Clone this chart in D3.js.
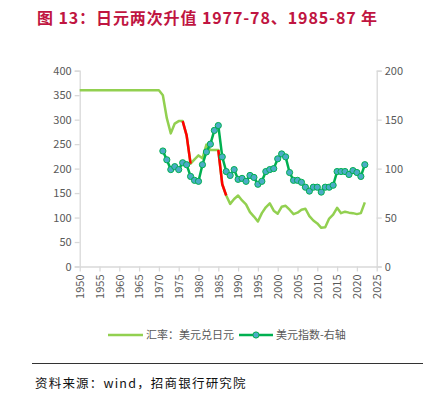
<!DOCTYPE html>
<html><head><meta charset="utf-8">
<script src="https://cdn.jsdelivr.net/npm/d3@7"></script>
<style>body{margin:0;background:#fff;}svg{display:block;}</style>
</head><body>
<script>
const yenYears = d3.range(1950, 2023);
const yenValues = [360,360,360,360,360,360,360,360,360,360,
  360,360,360,360,360,360,360,360,360,360,
  360,350,303,272,292,297,297,268,210,219,
  227,221,249,238,238,238,168,145,128,138,
  145,135,127,111,102,92,109,121,129,114,
  108,122,124,116,107,110,116,118,103,94,
  88,79,80,98,106,120,109,112,110,109,
  107,109,131];
const redRanges = [[1976,1978],[1985,1987]];
const dxyYears = d3.range(1971, 2023);
const dxyValues = [118,109,99,102,99,106,104,92,88,87,
  104,117,125,139,144,112,97,93,99,89,
  90,87,93,91,84,87,97,99,100,110,
  115,112,96,88,88,86,81,77,81,81,
  76,81,81,83,97,97,97,94,98,96,
  92,104];
const leftTicks = [0,50,100,150,200,250,300,350,400];
const rightTicks = [0,50,100,150,200];
const xTicks = d3.range(1950, 2026, 5);

const W = 438, H = 396;
const svg = d3.select("body").append("svg").attr("width", W).attr("height", H);
const font = "'Noto Sans CJK SC', 'Noto Sans', sans-serif";

const x = d3.scaleLinear().domain([1950, 2025]).range([79.7, 376.7]);
const yL = d3.scaleLinear().domain([0, 400]).range([266.5, 70.7]);
const yR = d3.scaleLinear().domain([0, 200]).range([266.5, 70.7]);

// Title
svg.append("text").attr("x", 37).attr("y", 24)
  .attr("font-family", font).attr("font-weight", "bold").attr("font-size", 16)
  .attr("letter-spacing", 0.9)
  .attr("fill", "#c01541").text("图 13：日元两次升值 1977-78、1985-87 年");

const axisColor = "#d9d9d9", labColor = "#595959";
function styleAxis(g) {
  g.selectAll("path,line").attr("stroke", axisColor).attr("stroke-width", 1.3);
  g.selectAll("text").attr("fill", labColor).attr("font-family", font).attr("font-size", 11);
}
const gl = svg.append("g").attr("transform", `translate(${x(1950)},0)`)
  .call(d3.axisLeft(yL).tickValues(leftTicks).tickSize(5).tickPadding(3).tickSizeOuter(5));
styleAxis(gl);
const gr = svg.append("g").attr("transform", `translate(${x(2025)},0)`)
  .call(d3.axisRight(yR).tickValues(rightTicks).tickSize(5).tickPadding(3).tickSizeOuter(5));
styleAxis(gr);
const gx = svg.append("g").attr("transform", `translate(0,${yL(0)})`)
  .call(d3.axisBottom(x).tickValues(xTicks).tickFormat(d3.format("d")).tickSize(5).tickSizeOuter(0));
styleAxis(gx);
gx.selectAll("text").attr("transform", "rotate(-90)").attr("text-anchor", "end")
  .attr("x", -8).attr("y", 0).attr("dy", "0.35em");

// Yen line
const yen = yenYears.map((y, i) => ({year: y, v: yenValues[i]}));
const lineL = d3.line().x(d => x(d.year)).y(d => yL(d.v));
svg.append("path").datum(yen).attr("d", lineL).attr("fill", "none")
  .attr("stroke", "#92d050").attr("stroke-width", 2.5).attr("stroke-linejoin", "round");
redRanges.forEach(([a, b]) => {
  svg.append("path").datum(yen.filter(d => d.year >= a && d.year <= b)).attr("d", lineL)
    .attr("fill", "none").attr("stroke", "#ff0000").attr("stroke-width", 2.5).attr("stroke-linejoin", "round");
});

// Dollar index
const dxy = dxyYears.map((y, i) => ({year: y, v: dxyValues[i]}));
const lineR = d3.line().x(d => x(d.year)).y(d => yR(d.v));
svg.append("path").datum(dxy).attr("d", lineR).attr("fill", "none")
  .attr("stroke", "#00b050").attr("stroke-width", 2.5).attr("stroke-linejoin", "round");
svg.append("g").selectAll("circle").data(dxy).join("circle")
  .attr("cx", d => x(d.year)).attr("cy", d => yR(d.v)).attr("r", 3.1)
  .attr("fill", "#4bacc6").attr("stroke", "#00b050").attr("stroke-width", 1);

// Legend
const ly = 335;
svg.append("line").attr("x1", 108).attr("x2", 143).attr("y1", ly).attr("y2", ly)
  .attr("stroke", "#92d050").attr("stroke-width", 2.5);
svg.append("text").attr("x", 146).attr("y", ly + 4).attr("font-family", font).attr("font-size", 11)
  .attr("fill", labColor).text("汇率：美元兑日元");
svg.append("line").attr("x1", 239).attr("x2", 273).attr("y1", ly).attr("y2", ly)
  .attr("stroke", "#00b050").attr("stroke-width", 2.5);
svg.append("circle").attr("cx", 256).attr("cy", ly).attr("r", 3.1)
  .attr("fill", "#4bacc6").attr("stroke", "#00b050").attr("stroke-width", 1);
svg.append("text").attr("x", 276).attr("y", ly + 4).attr("font-family", font).attr("font-size", 11)
  .attr("fill", labColor).text("美元指数-右轴");

// Divider and source
svg.append("line").attr("x1", 32).attr("x2", 423).attr("y1", 363.5).attr("y2", 363.5)
  .attr("stroke", "#333").attr("stroke-width", 1.2);
svg.append("text").attr("x", 35).attr("y", 388).attr("font-family", font).attr("font-size", 12.5)
  .attr("letter-spacing", 1.2)
  .attr("fill", "#111").text("资料来源：wind，招商银行研究院");
</script>
</body></html>
